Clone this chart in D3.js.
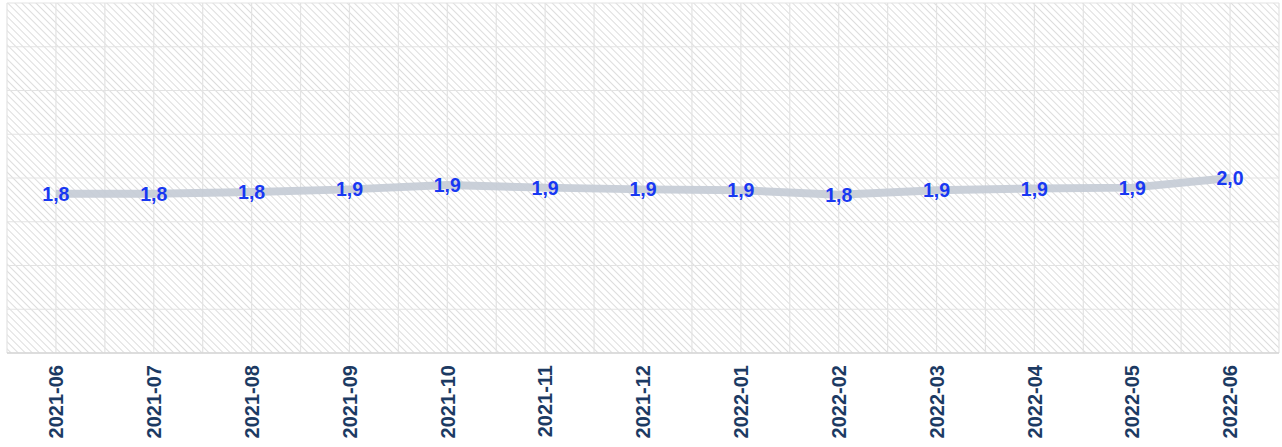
<!DOCTYPE html>
<html>
<head>
<meta charset="utf-8">
<script src="https://cdn.jsdelivr.net/npm/d3@7"></script>
<style>
  body { margin: 0; background: #fff; }
  svg { display: block; font-family: "Liberation Sans", Arial, sans-serif; }
</style>
</head>
<body>
<div id="chart"></div>
<script>
// Chart data
var months = ["2021-06", "2021-07", "2021-08", "2021-09", "2021-10", "2021-11", "2021-12",
              "2022-01", "2022-02", "2022-03", "2022-04", "2022-05", "2022-06"];
var values = [1.82, 1.82, 1.84, 1.87, 1.92, 1.89, 1.87, 1.86, 1.81, 1.86, 1.88, 1.89, 2.0];
var yTicks = [0, 0.5, 1, 1.5, 2, 2.5, 3, 3.5, 4];

var svgWidth = 1282;
var svgHeight = 447;

var margin = { top: 3, right: 3, bottom: 94, left: 7 };
var width = svgWidth - margin.left - margin.right;
var height = svgHeight - margin.top - margin.bottom;

var svg = d3.select("#chart")
  .append("svg")
  .attr("width", svgWidth)
  .attr("height", svgHeight);

// hatch pattern for plot background
var defs = svg.append("defs");
defs.append("pattern")
  .attr("id", "hatch")
  .attr("patternUnits", "userSpaceOnUse")
  .attr("width", 5)
  .attr("height", 5)
  .attr("patternTransform", "rotate(-45)")
  .append("line")
  .attr("x1", 0).attr("y1", 0)
  .attr("x2", 0).attr("y2", 5)
  .attr("stroke", "#d4d4d4")
  .attr("stroke-width", 1.6);

var chartGroup = svg.append("g")
  .attr("transform", `translate(${margin.left}, ${margin.top})`);

// scales
var xBand = d3.scaleBand()
  .domain(months)
  .range([0, width]);

var yScale = d3.scaleLinear()
  .domain([0, 4])
  .range([height, 0]);

var xPos = d => xBand(d) + xBand.bandwidth() / 2;

chartGroup.append("rect")
  .attr("width", width)
  .attr("height", height)
  .attr("fill", "url(#hatch)");

// horizontal grid
chartGroup.append("g")
  .selectAll("line")
  .data(yTicks)
  .enter()
  .append("line")
  .attr("x1", 0)
  .attr("x2", width)
  .attr("y1", d => yScale(d))
  .attr("y2", d => yScale(d))
  .attr("stroke", "#e3e3e3")
  .attr("stroke-width", 1.2);

// vertical grid: band edges and centres
var vLines = [];
months.forEach(function(m) {
  vLines.push(xBand(m));
  vLines.push(xPos(m));
});
vLines.push(width);

chartGroup.append("g")
  .selectAll("line")
  .data(vLines)
  .enter()
  .append("line")
  .attr("x1", d => d)
  .attr("x2", d => d)
  .attr("y1", 0)
  .attr("y2", height)
  .attr("stroke", "#e3e3e3")
  .attr("stroke-width", 1.2);

// bottom axis line
chartGroup.append("line")
  .attr("x1", 0)
  .attr("x2", width)
  .attr("y1", height)
  .attr("y2", height)
  .attr("stroke", "#d6d6d6")
  .attr("stroke-width", 1.5);

// the line
var line = d3.line()
  .x((d, i) => xPos(months[i]))
  .y(d => yScale(d));

chartGroup.append("path")
  .datum(values)
  .attr("d", line)
  .attr("fill", "none")
  .attr("stroke", "#c5ccd6")
  .attr("stroke-opacity", 0.92)
  .attr("stroke-width", 8);

// value labels
chartGroup.append("g")
  .selectAll("text")
  .data(values)
  .enter()
  .append("text")
  .attr("x", (d, i) => xPos(months[i]))
  .attr("y", d => yScale(d))
  .attr("dy", "0.36em")
  .attr("text-anchor", "middle")
  .attr("fill", "#1838f2")
  .style("font-size", "19.5px")
  .style("font-weight", "bold")
  .text(d => d.toFixed(1).replace(".", ","));

// x labels
chartGroup.append("g")
  .selectAll("text")
  .data(months)
  .enter()
  .append("text")
  .attr("transform", d => `translate(${xPos(d)}, ${height + 12}) rotate(-90)`)
  .attr("dy", "0.36em")
  .attr("text-anchor", "end")
  .attr("fill", "#1c3a63")
  .style("font-size", "20px")
  .style("font-weight", "bold")
  .text(d => d);
</script>
</body>
</html>
